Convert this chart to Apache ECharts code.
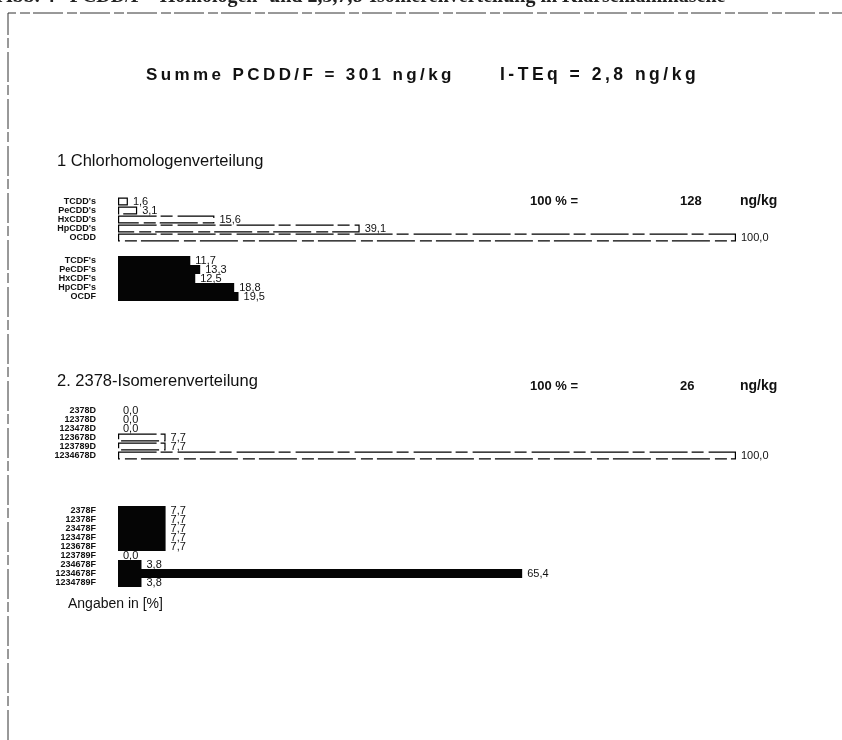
<!DOCTYPE html>
<html>
<head>
<meta charset="utf-8">
<script src="https://cdn.jsdelivr.net/npm/echarts@6/dist/echarts.min.js"></script>
<style>
  html, body { margin: 0; padding: 0; background: #fff; }
  #chart { width: 842px; height: 740px; }
</style>
</head>
<body>
<div id="chart"></div>
<script>
// 1 Chlorhomologenverteilung
const homologDioxins = ["TCDD's", "PeCDD's", "HxCDD's", "HpCDD's", 'OCDD']
const homologDioxinValues = [1.6, 3.1, 15.6, 39.1, 100.0]
const homologFurans = ["TCDF's", "PeCDF's", "HxCDF's", "HpCDF's", 'OCDF']
const homologFuranValues = [11.7, 13.3, 12.5, 18.8, 19.5]

// 2. 2378-Isomerenverteilung
const isomerDioxins = ['2378D', '12378D', '123478D', '123678D', '123789D', '1234678D']
const isomerDioxinValues = [0.0, 0.0, 0.0, 7.7, 7.7, 100.0]
const isomerFurans = ['2378F', '12378F', '23478F', '123478F', '123678F', '123789F', '234678F', '1234678F', '1234789F']
const isomerFuranValues = [7.7, 7.7, 7.7, 7.7, 7.7, 0.0, 3.8, 65.4, 3.8]

const chart = echarts.init(document.getElementById('chart'))

const fmt = (v) => Number(v).toFixed(1).replace('.', ',')
const spaced = (s) => s.split('').join('\u2009')

// grid boxes, one per block of bars (9 px per row)
const grids = [
  { left: 118, right: 106, top: 197, height: 45 },
  { left: 118, right: 106, top: 256, height: 45 },
  { left: 118, right: 106, top: 406, height: 54 },
  { left: 118, right: 106, top: 506, height: 81 },
]
const blocks = [
  { cats: homologDioxins, values: homologDioxinValues, filled: false },
  { cats: homologFurans, values: homologFuranValues, filled: true },
  { cats: isomerDioxins, values: isomerDioxinValues, filled: false },
  { cats: isomerFurans, values: isomerFuranValues, filled: true },
]

const xAxis = grids.map((_, i) => ({
  gridIndex: i,
  type: 'value',
  min: 0,
  max: 100,
  show: false,
}))

const yAxis = blocks.map((b, i) => ({
  gridIndex: i,
  type: 'category',
  inverse: true,
  data: b.cats,
  axisLine: { show: false },
  axisTick: { show: false },
  splitLine: { show: false },
  axisLabel: {
    margin: 22,
    color: '#111',
    fontFamily: 'Arial, "Liberation Sans", sans-serif',
    fontWeight: 'bold',
    fontSize: 9,
    interval: 0,
  },
}))

const series = blocks.map((b, i) => ({
  type: 'bar',
  xAxisIndex: i,
  yAxisIndex: i,
  // zero bars are drawn without outline
  data: b.values.map((v) => (v === 0 ? { value: v, itemStyle: { borderWidth: 0 } } : v)),
  barCategoryGap: b.filled ? '0%' : '12%',
  itemStyle: b.filled
    ? { color: '#050505' }
    : {
        color: '#fff',
        borderColor: '#000',
        borderWidth: 1.2,
        borderType: [38, 4, 12, 5],
      },
  label: {
    show: true,
    position: 'right',
    distance: 5,
    color: '#111',
    fontFamily: 'Arial, "Liberation Sans", sans-serif',
    fontSize: 11,
    formatter: (p) => fmt(p.value),
  },
  silent: true,
  animation: false,
}))

const txt = (x, y, text, size, weight, extra = {}) => ({
  type: 'text',
  x,
  y,
  silent: true,
  style: {
    text,
    fill: '#111',
    font: `${weight} ${size}px Arial, "Liberation Sans", sans-serif`,
    textVerticalAlign: 'middle',
    ...extra,
  },
})

chart.setOption({
  animation: false,
  grid: grids,
  xAxis,
  yAxis,
  series,
  graphic: [
    // cut-off caption of the scanned page
    {
      type: 'text',
      x: -2,
      y: -13,
      silent: true,
      style: {
        text: 'Abb. 4   PCDD/F - Homologen- und 2,3,7,8-Isomerenverteilung in Klärschlammasche',
        fill: '#222',
        font: 'bold 20px "Liberation Serif", "DejaVu Serif", serif',
      },
    },
    // page frame
    {
      type: 'polyline',
      silent: true,
      shape: { points: [[8, 740], [8, 13], [842, 13]] },
      style: { stroke: '#333', lineWidth: 1, lineDash: [30, 4, 10, 3], fill: null },
    },
    txt(146, 75, spaced('Summe PCDD/F = 301 ng/kg'), 17, 'bold'),
    txt(500, 75, spaced('I-TEq = 2,8 ng/kg'), 17.5, 'bold'),
    txt(57, 161, '1 Chlorhomologenverteilung', 16.5, 'normal'),
    txt(530, 201, '100 % =', 13, 'bold'),
    txt(680, 201, '128', 13, 'bold'),
    txt(740, 201, 'ng/kg', 14, 'bold'),
    txt(57, 381, '2. 2378-Isomerenverteilung', 16.5, 'normal'),
    txt(530, 386, '100 % =', 13, 'bold'),
    txt(680, 386, '26', 13, 'bold'),
    txt(740, 386, 'ng/kg', 14, 'bold'),
    txt(68, 604, 'Angaben in [%]', 14, 'normal'),
  ],
})
</script>
</body>
</html>
